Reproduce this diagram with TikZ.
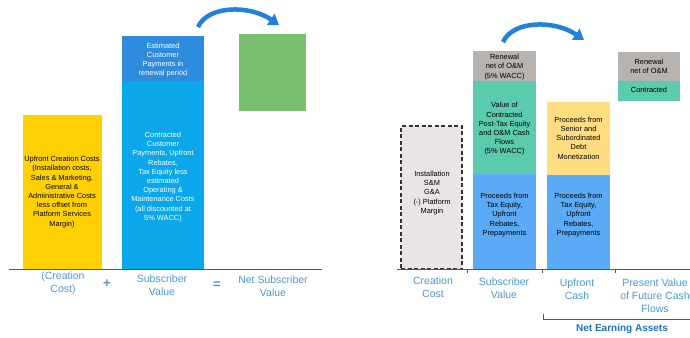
\documentclass[tikz,border=0pt]{standalone}
\usepackage{fontspec}
\setmainfont{Liberation Sans}
\usetikzlibrary{arrows.meta}
\definecolor{cYel}{HTML}{FFD104}
\definecolor{cLBlue}{HTML}{0AA7EA}
\definecolor{cDBlue}{HTML}{2E8BDE}
\definecolor{cGreen}{HTML}{78C06E}
\definecolor{cGrey}{HTML}{B8B3AE}
\definecolor{cTeal}{HTML}{5BCBAE}
\definecolor{cBlue}{HTML}{5AAAF5}
\definecolor{cPale}{HTML}{FFDD80}
\definecolor{cDash}{HTML}{E9E5E4}
\definecolor{cLab}{HTML}{4C97DA}
\definecolor{cNEA}{HTML}{1F6FC9}
\definecolor{cArrow}{HTML}{2080DC}
\definecolor{cLine}{HTML}{555555}
\tikzset{
  bar/.style={anchor=north west, inner sep=0pt, outer sep=0pt, draw=none},
  txt/.style={align=center, font=\fontsize{7.4}{9.2}\selectfont, inner sep=0pt},
  wtxt/.style={txt, text=white},
  lab/.style={align=center, font=\fontsize{10.5}{12.8}\selectfont, text=cLab, inner sep=0pt},
  op/.style={font=\fontsize{13}{13}\bfseries\selectfont, text=cLab, inner sep=0pt},
  bigarrow/.style={draw=cArrow, line width=4.5pt, -{Triangle[width=13pt,length=10pt]}},
  base/.style={draw=cLine, line width=0.9pt},
}
\begin{document}
\begin{tikzpicture}[x=1pt,y=-1pt]
\useasboundingbox (0,0) rectangle (690,337);
% ---------------- left panel ----------------
\node[bar, fill=cYel, minimum width=79, minimum height=154] (yel) at (23,115) {};
\node[bar, fill=cDBlue, minimum width=82, minimum height=45] (sbtop) at (122,36) {};
\node[bar, fill=cLBlue, minimum width=82, minimum height=188] (sbbot) at (122,81) {};
\node[bar, fill=cGreen, minimum width=67, minimum height=77] (nsv) at (239,34) {};
\node[txt] (yelt) at (62,192) {Upfront Creation Costs\\(Installation costs,\\Sales \& Marketing,\\General \&\\Administrative Costs\\less offset from\\Platform Services\\Margin)};
\node[wtxt] (sbtopt) at (163,60) {Estimated\\Customer\\Payments in\\renewal period};
\node[wtxt] (sbbott) at (163,177) {Contracted\\Customer\\Payments, Upfront\\Rebates,\\Tax Equity less\\estimated\\Operating \&\\Maintenance Costs\\(all discounted at\\5\% WACC)};
\coordinate (lb1) at (9,269);
\coordinate (lb2) at (322,269);
\draw[base] (lb1) -- (lb2);
\node[lab] (l1) at (63,283) {(Creation\\Cost)};
\node[op] (plus) at (107,284) {+};
\node[lab] (l2) at (162,285) {Subscriber\\Value};
\node[op] (eq) at (217,285) {=};
\node[lab] (l3) at (273,286) {Net Subscriber\\Value};
\coordinate (a1s) at (198,27);
\coordinate (a1e) at (279,25);
\draw[bigarrow] (a1s) .. controls (208,5) and (250,5) .. (a1e);
% ---------------- right panel ----------------
\node[bar, fill=cDash, draw=black!80, dashed, dash pattern=on 4pt off 2.5pt, line width=1.2pt, minimum width=61, minimum height=143] (cc) at (401,126) {};
\node[bar, fill=cGrey, minimum width=63, minimum height=30] (svg) at (473,51) {};
\node[bar, fill=cTeal, minimum width=63, minimum height=93] (svt) at (473,81) {};
\node[bar, fill=cBlue, minimum width=63, minimum height=95] (svb) at (473,174) {};
\node[bar, fill=cPale, minimum width=63, minimum height=73] (ucy) at (547,102) {};
\node[bar, fill=cBlue, minimum width=63, minimum height=94] (ucb) at (547,175) {};
\node[bar, fill=cGrey, minimum width=62, minimum height=29] (pvg) at (618,52) {};
\node[bar, fill=cTeal, minimum width=62, minimum height=20] (pvt) at (618,81) {};
\node[txt] (cct) at (432,193) {Installation\\S\&M\\G\&A\\(-) Platform\\Margin};
\node[txt] (svgt) at (504.5,67) {Renewal\\net of O\&M\\(5\% WACC)};
\node[txt] (svtt) at (504.5,129) {Value of\\Contracted\\Post-Tax Equity\\and O\&M Cash\\Flows\\(5\% WACC)};
\node[txt] (svbt) at (504.5,215) {Proceeds from\\Tax Equity,\\Upfront\\Rebates,\\Prepayments};
\node[txt] (ucyt) at (578.5,138) {Proceeds from\\Senior and\\Subordinated\\Debt\\Monetization};
\node[txt] (ucbt) at (578.5,215) {Proceeds from\\Tax Equity,\\Upfront\\Rebates,\\Prepayments};
\node[txt] (pvgt) at (649,66) {Renewal\\net of O\&M};
\node[txt] (pvtt) at (649,90) {Contracted};
\coordinate (rb1) at (397,269);
\coordinate (rb2) at (690,269);
\draw[base] (rb1) -- (rb2);
\foreach \x/\n in {467/t1,542/t2,615/t3}{
  \coordinate (\n a) at (\x,269);
  \coordinate (\n b) at (\x,273);
  \draw[base] (\n a) -- (\n b);
}
\node[lab] (r1) at (433,287) {Creation\\Cost};
\node[lab] (r2) at (504,288) {Subscriber\\Value};
\node[lab] (r3) at (577,289) {Upfront\\Cash};
\node[lab] (r4) at (655,296) {Present Value\\of Future Cash\\Flows};
\coordinate (br0) at (543,314);
\coordinate (br1) at (543,319);
\coordinate (br2) at (690,319);
\draw[base, line width=1pt] (br0) -- (br1) -- (br2);
\node[font=\fontsize{10}{12}\bfseries\selectfont, text=cNEA, inner sep=0pt] (nea) at (622,329) {Net Earning Assets};
\coordinate (a2s) at (503,42);
\coordinate (a2e) at (584,40);
\draw[bigarrow] (a2s) .. controls (513,20) and (555,20) .. (a2e);
\end{tikzpicture}
\end{document}
